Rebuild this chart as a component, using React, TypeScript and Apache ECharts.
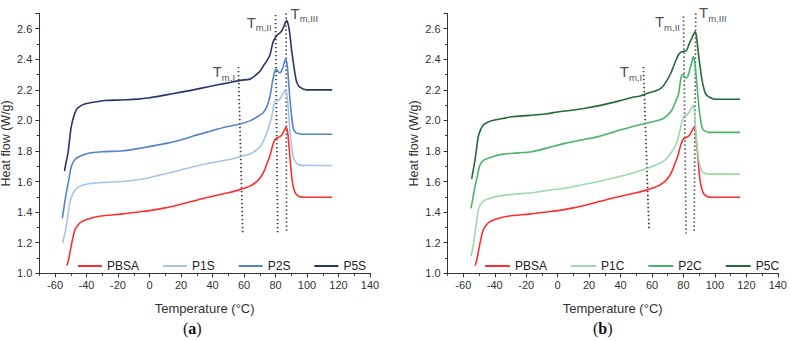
import React, { useEffect, useRef } from 'react';
import * as echarts from 'echarts';

type Pt = [number, number];

// DSC heating curves: [temperature (°C), heat flow (W/g)]
const pbsa: Pt[] = [
  [-52.4, 1.05], [-51, 1.11], [-49.7, 1.18], [-48.5, 1.24], [-47.3, 1.285], [-45.5, 1.315],
  [-43.3, 1.336], [-40, 1.352], [-35, 1.367], [-28, 1.378], [-18, 1.387], [-10, 1.398],
  [0, 1.41], [10, 1.428], [20, 1.452], [30, 1.478], [40, 1.504], [50, 1.527], [58, 1.549],
  [64, 1.572], [68, 1.6], [71, 1.635], [73, 1.675], [75, 1.73], [76.5, 1.77], [78, 1.83],
  [79.5, 1.872], [81, 1.885], [82.5, 1.892], [84, 1.905], [85.5, 1.935], [86.7, 1.955],
  [87.6, 1.93], [88.5, 1.84], [89.3, 1.74], [90.3, 1.63], [91.3, 1.566], [92.5, 1.528],
  [93.8, 1.511], [95.5, 1.5], [98, 1.497], [116, 1.497],
];

const p1s: Pt[] = [
  [-55.3, 1.196], [-54, 1.25], [-52.9, 1.304], [-51.8, 1.38], [-50.7, 1.457], [-49, 1.515],
  [-46.5, 1.555], [-43, 1.575], [-37, 1.588], [-28, 1.595], [-18, 1.6], [-5, 1.615],
  [6.6, 1.643], [17, 1.668], [27.8, 1.697], [38, 1.72], [49, 1.741], [57.5, 1.763],
  [63.8, 1.78], [67, 1.8], [70.2, 1.828], [72.5, 1.87], [74.4, 1.916], [76, 1.97],
  [77.6, 2.025], [78.8, 2.09], [79.8, 2.123], [81, 2.13], [82.2, 2.134], [83.5, 2.15],
  [85, 2.18], [86.4, 2.2], [87.3, 2.16], [88.2, 2.06], [89.2, 1.93], [90.3, 1.82],
  [91.3, 1.763], [92.5, 1.73], [94.4, 1.712], [97, 1.706], [116, 1.705],
];

const p2s: Pt[] = [
  [-55.4, 1.359], [-54.2, 1.44], [-52.9, 1.523], [-51.3, 1.61], [-49.7, 1.697], [-47.7, 1.74],
  [-45.4, 1.759], [-41, 1.778], [-37, 1.789], [-28, 1.796], [-18, 1.8], [-5, 1.82],
  [10.6, 1.85], [20, 1.872], [27.8, 1.898], [38, 1.928], [49, 1.959], [57, 1.975],
  [63.8, 1.997], [67, 2.015], [70, 2.035], [72.2, 2.05], [74.5, 2.09], [76.5, 2.16],
  [78.2, 2.26], [79.7, 2.327], [80.6, 2.335], [81.6, 2.32], [82.6, 2.312], [83.6, 2.32],
  [84.8, 2.35], [86.4, 2.4], [87.3, 2.37], [88.2, 2.27], [89.2, 2.134], [90.3, 2.02],
  [91.3, 1.949], [92.5, 1.925], [93.8, 1.916], [97.6, 1.91], [116, 1.91],
];

const p5s: Pt[] = [
  [-54, 1.669], [-52.9, 1.73], [-51.8, 1.785], [-50.7, 1.88], [-49.7, 1.959], [-48, 2.03],
  [-46.5, 2.069], [-44, 2.094], [-41.2, 2.108], [-35, 2.12], [-28.5, 2.13], [-18, 2.134],
  [-7.3, 2.139], [0, 2.148], [10.6, 2.167], [20, 2.185], [27.8, 2.2], [38, 2.222],
  [49, 2.244], [57.5, 2.262], [63.8, 2.27], [66, 2.285], [70, 2.32], [72.5, 2.36],
  [74.5, 2.39], [76.5, 2.43], [78.6, 2.517], [80.7, 2.554], [82.5, 2.57], [83.9, 2.585],
  [85.5, 2.62], [87.1, 2.655], [88, 2.63], [88.7, 2.594], [89.5, 2.53], [90.2, 2.462],
  [91.3, 2.38], [92.3, 2.31], [93.5, 2.25], [95.5, 2.218], [99.8, 2.2], [116, 2.2],
];

const p1c: Pt[] = [
  [-55.1, 1.113], [-53.8, 1.18], [-52.6, 1.262], [-51.5, 1.34], [-50.5, 1.414], [-48.5, 1.46],
  [-46.2, 1.479], [-42, 1.495], [-37.7, 1.505], [-28, 1.517], [-16.5, 1.527], [-5, 1.545],
  [4.7, 1.556], [15, 1.578], [25.9, 1.6], [36, 1.625], [47.1, 1.654], [55, 1.68],
  [59.8, 1.697], [64.1, 1.716], [68.3, 1.741], [71.5, 1.78], [74.6, 1.828], [76.5, 1.88],
  [77.8, 1.937], [79, 1.99], [79.9, 2.024], [81, 2.03], [82.5, 2.04], [84, 2.06],
  [85.3, 2.085], [86.3, 2.1], [87.2, 2.02], [88.5, 1.85], [89.6, 1.75], [90.6, 1.697],
  [91.7, 1.67], [92.7, 1.658], [95, 1.65], [97, 1.649], [116, 1.649],
];

const p2c: Pt[] = [
  [-55.1, 1.425], [-53.8, 1.5], [-52.6, 1.566], [-51, 1.64], [-49.4, 1.708], [-47, 1.74],
  [-44.1, 1.752], [-40, 1.767], [-35.6, 1.778], [-25, 1.788], [-16.5, 1.795], [-5, 1.825],
  [4.7, 1.85], [15, 1.872], [25.9, 1.894], [36, 1.925], [47.1, 1.959], [55.6, 1.98],
  [61, 1.993], [66.2, 2.007], [70, 2.035], [72.6, 2.068], [74.5, 2.11], [76.8, 2.17],
  [78, 2.25], [78.9, 2.297], [79.8, 2.3], [80.7, 2.285], [81.6, 2.278], [82.8, 2.29],
  [84.2, 2.34], [85.3, 2.38], [86.3, 2.417], [87.2, 2.38], [88.5, 2.243], [89.5, 2.12],
  [90.6, 2.024], [91.7, 1.96], [92.7, 1.937], [95, 1.925], [97, 1.922], [116, 1.922],
];

const p5c: Pt[] = [
  [-54.7, 1.617], [-53.6, 1.68], [-52.6, 1.741], [-51.5, 1.82], [-50.5, 1.893], [-49, 1.94],
  [-47.3, 1.97], [-44.5, 1.988], [-42, 1.998], [-35, 2.012], [-29.2, 2.024], [-18, 2.033],
  [-8, 2.042], [0, 2.055], [10, 2.068], [20, 2.085], [30, 2.105], [40, 2.13], [47.1, 2.15],
  [52.4, 2.16], [57, 2.177], [63, 2.195], [66.2, 2.215], [69.4, 2.26], [72, 2.31],
  [73.6, 2.351], [75.3, 2.395], [76.8, 2.428], [78, 2.443], [78.9, 2.449], [80.2, 2.452],
  [81.5, 2.455], [82.5, 2.47], [84, 2.51], [85.3, 2.537], [86.5, 2.565], [87.4, 2.58],
  [88.1, 2.56], [88.8, 2.504], [89.7, 2.42], [90.6, 2.351], [91.7, 2.27], [92.7, 2.22],
  [94, 2.175], [95.9, 2.155], [98.5, 2.142], [101.2, 2.138], [116, 2.138],
];

// Melting-temperature guide lines (dotted), top and bottom ends
const tmLinesA: Pt[][] = [
  [[56.4, 2.35], [59.2, 1.26]],
  [[80.0, 2.69], [81.4, 1.26]],
  [[86.7, 2.7], [87.0, 1.26]],
];
const tmLinesB: Pt[][] = [
  [[54.5, 2.35], [58.1, 1.28]],
  [[80.0, 2.68], [81.7, 1.26]],
  [[87.8, 2.7], [86.8, 1.26]],
];

// Tm annotations: subscript text and anchor position
const tmSubs = ['m,I', 'm,II', 'm,III'];
const tmLabelPosA: Pt[] = [[47.2, 2.313], [69.6, 2.637], [98.3, 2.696]];
const tmLabelPosB: Pt[] = [[46.6, 2.313], [69.8, 2.64], [98.7, 2.699]];

const namesA = ['PBSA', 'P1S', 'P2S', 'P5S'];
const namesB = ['PBSA', 'P1C', 'P2C', 'P5C'];
const curvesA = [pbsa, p1s, p2s, p5s];
const curvesB = [pbsa, p1c, p2c, p5c];
const colorsA = ['#ff2e2e', '#a7c3ea', '#5482cf', '#29356a'];
const colorsB = ['#ff2e2e', '#9fd9aa', '#4bb36a', '#236a3a'];

const FONT = 'Liberation Sans, Arial, Helvetica, sans-serif';
const SERIF = 'Liberation Serif, Times New Roman, serif';
const AXIS_COLOR = '#333';

function buildAxes(grid: number) {
  const xMajor = {
    type: 'value',
    gridIndex: grid,
    min: -70,
    max: 140,
    splitNumber: 10,
    position: 'bottom',
    name: 'Temperature (°C)',
    nameLocation: 'middle',
    nameGap: 29,
    nameTextStyle: { fontFamily: FONT, fontSize: 13, color: AXIS_COLOR },
    axisLine: { show: true, onZero: false, lineStyle: { color: AXIS_COLOR, width: 1 } },
    axisTick: { show: true, length: 4, inside: false, lineStyle: { color: AXIS_COLOR } },
    axisLabel: { fontFamily: FONT, fontSize: 11, color: AXIS_COLOR, margin: 6, showMinLabel: false },
    splitLine: { show: false },
  };
  const xMinor = {
    type: 'value',
    gridIndex: grid,
    min: -70,
    max: 140,
    interval: 10,
    position: 'bottom',
    axisLine: { show: false, onZero: false },
    axisTick: { show: true, length: 2.5, lineStyle: { color: AXIS_COLOR } },
    axisLabel: { show: false },
    splitLine: { show: false },
  };
  const y = {
    type: 'value',
    gridIndex: grid,
    min: 1.0,
    max: 2.7,
    interval: 0.2,
    name: 'Heat flow (W/g)',
    nameLocation: 'middle',
    nameGap: 27,
    nameTextStyle: { fontFamily: FONT, fontSize: 12.5, color: AXIS_COLOR },
    axisLine: { show: true, onZero: false, lineStyle: { color: AXIS_COLOR, width: 1 } },
    axisTick: { show: true, length: 4, lineStyle: { color: AXIS_COLOR } },
    minorTick: { show: true, splitNumber: 2, length: 2.5, lineStyle: { color: AXIS_COLOR } },
    axisLabel: {
      fontFamily: FONT, fontSize: 11, color: AXIS_COLOR, margin: 7, showMaxLabel: false,
      formatter: (v: number) => v.toFixed(1),
    },
    splitLine: { show: false },
  };
  return { xMajor, xMinor, y };
}

function buildSeries(
  grid: number, names: string[], curves: Pt[][], colors: string[],
  tmLines: Pt[][], labelPos: Pt[],
) {
  const xIdx = grid * 2;
  const out: any[] = [];
  curves.forEach((data, i) => {
    out.push({
      type: 'line',
      name: names[i],
      xAxisIndex: xIdx,
      yAxisIndex: grid,
      data,
      showSymbol: false,
      symbol: 'none',
      smooth: 0.35,
      color: colors[i],
      lineStyle: { color: colors[i], width: 1.6 },
      z: 3,
    });
  });
  tmLines.forEach((data) => {
    out.push({
      type: 'line',
      xAxisIndex: xIdx,
      yAxisIndex: grid,
      data,
      showSymbol: false,
      symbol: 'none',
      silent: true,
      clip: false,
      lineStyle: { color: '#333', width: 1.7, type: [1.4, 2.6] },
      z: 2,
    });
  });
  out.push({
    type: 'scatter',
    xAxisIndex: xIdx,
    yAxisIndex: grid,
    symbolSize: 1,
    silent: true,
    itemStyle: { color: 'rgba(0,0,0,0)' },
    data: labelPos.map((p, i) => ({
      value: p,
      label: {
        show: true,
        position: 'inside',
        formatter: `{t|T}{s|${tmSubs[i]}}`,
        rich: {
          t: { fontFamily: FONT, fontSize: 15, lineHeight: 17, color: '#222', verticalAlign: 'top' },
          s: { fontFamily: FONT, fontSize: 9.5, lineHeight: 10, color: '#222', verticalAlign: 'top', padding: [8, 0, 0, 0] },
        },
      },
    })),
    z: 4,
  });
  return out;
}

const legendBase = {
  orient: 'horizontal',
  top: 255,
  itemGap: 24,
  itemHeight: 2,
  icon: 'rect',
  textStyle: { fontFamily: FONT, fontSize: 12, color: '#222' },
  selectedMode: false,
};

function caption(letter: string, left: number) {
  return {
    type: 'text',
    left,
    top: 320,
    style: {
      text: `{p|(}{b|${letter}}{p|)}`,
      rich: {
        p: { fontFamily: SERIF, fontSize: 16, fill: '#111' },
        b: { fontFamily: SERIF, fontSize: 16, fontWeight: 'bold', fill: '#111' },
      },
    },
  };
}

export default function App() {
  const ref = useRef<HTMLDivElement>(null);

  useEffect(() => {
    if (!ref.current) return;
    const chart = echarts.init(ref.current, undefined, { renderer: 'svg' });
    const a = buildAxes(0);
    const b = buildAxes(1);
    chart.setOption({
      animation: false,
      backgroundColor: '#ffffff',
      grid: [
        { left: 39.3, top: 13.4, width: 330.7, height: 259.9, containLabel: false, outerBoundsMode: 'none' },
        { left: 447.6, top: 13.4, width: 330.2, height: 259.9, containLabel: false, outerBoundsMode: 'none' },
      ],
      xAxis: [a.xMajor, a.xMinor, b.xMajor, b.xMinor],
      yAxis: [a.y, b.y],
      legend: [
        { ...legendBase, left: 73, itemWidth: 24, data: namesA },
        { ...legendBase, left: 480, itemWidth: 25, data: namesB },
      ],
      series: [
        ...buildSeries(0, namesA, curvesA, colorsA, tmLinesA, tmLabelPosA),
        ...buildSeries(1, namesB, curvesB, colorsB, tmLinesB, tmLabelPosB),
      ],
      graphic: [caption('a', 183), caption('b', 593)],
    });
    return () => chart.dispose();
  }, []);

  return (
    <div
      ref={ref}
      style={{ position: 'absolute', left: 0, top: 0, width: 790, height: 341, background: '#fff' }}
    />
  );
}
